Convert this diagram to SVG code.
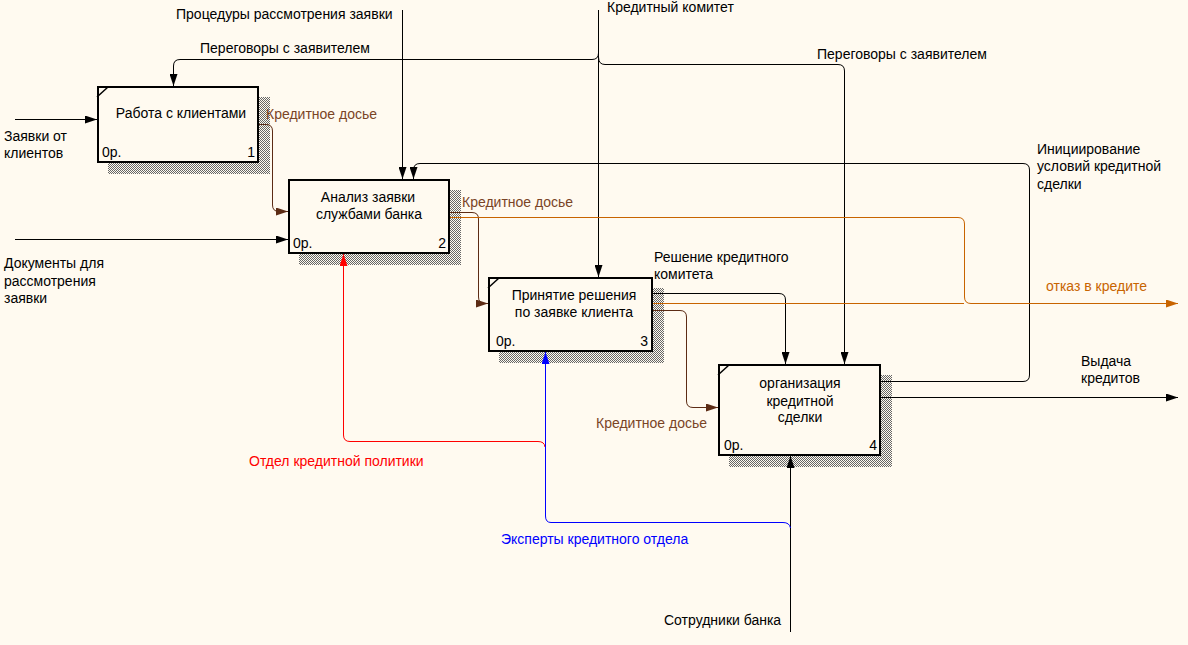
<svg xmlns="http://www.w3.org/2000/svg" width="1188" height="645" viewBox="0 0 1188 645">
<style>
text{font-family:"Liberation Sans",Arial,sans-serif;font-size:14px;fill:#000}
.box{fill:#fffaf0;stroke:#000;stroke-width:2}
.sh{fill:url(#hatch)}
.diag{stroke:#000;stroke-width:1.5}
.c{fill:none;stroke-width:1}
.k{stroke:#000}
.br{stroke:#5c2b14}
.or{stroke:#c86400}
.rd{stroke:#ff0000}
.bl{stroke:#0000ff}
.mid{text-anchor:middle}
.end{text-anchor:end}
.tbr{fill:#7a4426}
.tor{fill:#c86400}
.trd{fill:#ff0000}
.tbl{fill:#0000ff}
</style>
<defs>
<pattern id="hatch" width="2" height="2" patternUnits="userSpaceOnUse"><rect x="0" y="0" width="1" height="1" fill="#666"/><rect x="1" y="1" width="1" height="1" fill="#666"/></pattern>
<marker id="ak" viewBox="0 0 12 8" refX="12" refY="4" markerWidth="12" markerHeight="8" markerUnits="userSpaceOnUse" orient="auto"><path d="M0,0 L12,4 L0,8 z" fill="#000"/></marker>
<marker id="abr" viewBox="0 0 12 8" refX="12" refY="4" markerWidth="12" markerHeight="8" markerUnits="userSpaceOnUse" orient="auto"><path d="M0,0 L12,4 L0,8 z" fill="#5c2b14"/></marker>
<marker id="aor" viewBox="0 0 12 8" refX="12" refY="4" markerWidth="12" markerHeight="8" markerUnits="userSpaceOnUse" orient="auto"><path d="M0,0 L12,4 L0,8 z" fill="#c86400"/></marker>
<marker id="ard" viewBox="0 0 12 8" refX="12" refY="4" markerWidth="12" markerHeight="8" markerUnits="userSpaceOnUse" orient="auto"><path d="M0,0 L12,4 L0,8 z" fill="#ff0000"/></marker>
<marker id="abl" viewBox="0 0 12 8" refX="12" refY="4" markerWidth="12" markerHeight="8" markerUnits="userSpaceOnUse" orient="auto"><path d="M0,0 L12,4 L0,8 z" fill="#0000ff"/></marker>
</defs>
<rect x="0" y="0" width="1188" height="645" fill="#fffaf0"/>

<g id="node1">
<rect class="sh" x="108" y="97" width="162" height="77"/>
<rect class="box" x="98" y="87" width="160" height="75"/>
<line class="diag" x1="97" y1="97" x2="108" y2="87"/>
<text class="mid" x="181" y="118">Работа с клиентами</text>
<text x="102" y="157">0р.</text>
<text class="end" x="255" y="157">1</text>
</g>

<g id="node2">
<rect class="sh" x="299" y="190" width="162" height="75"/>
<rect class="box" x="289" y="180" width="160" height="73"/>
<text class="mid" x="368" y="202">Анализ заявки</text>
<text class="mid" x="369" y="219">службами банка</text>
<text x="293" y="248">0р.</text>
<text class="end" x="446" y="248">2</text>
</g>

<g id="node3">
<rect class="sh" x="499" y="288" width="165" height="75"/>
<rect class="box" x="489" y="278" width="163" height="73"/>
<line class="diag" x1="488" y1="288" x2="499" y2="278"/>
<text class="mid" x="574" y="300">Принятие решения</text>
<text class="mid" x="574" y="317">по заявке клиента</text>
<text x="496" y="346">0р.</text>
<text class="end" x="648" y="346">3</text>
</g>

<g id="node4">
<rect class="sh" x="729" y="375" width="163" height="92"/>
<rect class="box" x="719" y="365" width="161" height="90"/>
<line class="diag" x1="718" y1="375" x2="729" y2="365"/>
<text class="mid" x="800" y="388">организация</text>
<text class="mid" x="800" y="406">кредитной</text>
<text class="mid" x="800" y="422">сделки</text>
<text x="724" y="450">0р.</text>
<text class="end" x="877" y="450">4</text>
</g>

<g id="connectors">
<path class="c k" d="M15,119.5 H97" marker-end="url(#ak)"/>
<path class="c k" d="M15,239.5 H288" marker-end="url(#ak)"/>
<path class="c k" d="M402.5,10 V179" marker-end="url(#ak)"/>
<path class="c k" d="M598.5,10 V277" marker-end="url(#ak)"/>
<path class="c k" d="M598.5,53 Q598.5,59.5 592,59.5 H180 Q173.5,59.5 173.5,66 V86" marker-end="url(#ak)"/>
<path class="c k" d="M598.5,57 Q598.5,64.5 605,64.5 H838 Q844.5,64.5 844.5,71 V364" marker-end="url(#ak)"/>
<path class="c k" d="M881,381.5 H1023 Q1029.5,381.5 1029.5,375 V170 Q1029.5,163.5 1023,163.5 H420 Q413.5,163.5 413.5,170 V179" marker-end="url(#ak)"/>
<path class="c k" d="M653,293.5 H779 Q785.5,293.5 785.5,300 V364" marker-end="url(#ak)"/>
<path class="c k" d="M881,397.5 H1178" marker-end="url(#ak)"/>
<path class="c k" d="M790.5,632 V456" marker-end="url(#ak)"/>
<path class="c br" d="M259,124.5 H266 Q272.5,124.5 272.5,131 V205 Q272.5,211.5 279,211.5 H288" marker-end="url(#abr)"/>
<path class="c br" d="M450,212.5 H472 Q478.5,212.5 478.5,219 V297 Q478.5,303.5 485,303.5 H488" marker-end="url(#abr)"/>
<path class="c br" d="M653,310.5 H680 Q686.5,310.5 686.5,317 V401 Q686.5,407.5 693,407.5 H718" marker-end="url(#abr)"/>
<path class="c or" d="M653,303.5 H964"/>
<path class="c or" d="M450,217.5 H958 Q964.5,217.5 964.5,224 V297 Q964.5,303.5 971,303.5 H1178" marker-end="url(#aor)"/>
<path class="c rd" d="M545,447 Q544.5,441.5 538,441.5 H350 Q343.5,441.5 343.5,435 V254" marker-end="url(#ard)"/>
<path class="c bl" d="M790.5,528 Q789.5,522.5 783,522.5 H551 Q545.5,522.5 545.5,516 V352" marker-end="url(#abl)"/>
</g>

<g id="labels">
<text x="176" y="19">Процедуры рассмотрения заявки</text>
<text x="200" y="53">Переговоры с заявителем</text>
<text x="607" y="12">Кредитный комитет</text>
<text x="817" y="59">Переговоры с заявителем</text>
<text class="tbr" x="266" y="119">Кредитное досье</text>
<text x="4" y="141">Заявки от</text>
<text x="4" y="158">клиентов</text>
<text x="4" y="268">Документы для</text>
<text x="4" y="286">рассмотрения</text>
<text x="4" y="303">заявки</text>
<text class="tbr" x="462" y="207">Кредитное досье</text>
<text x="654" y="262">Решение кредитного</text>
<text x="654" y="279">комитета</text>
<text x="1037" y="154">Инициирование</text>
<text x="1037" y="171">условий кредитной</text>
<text x="1037" y="189">сделки</text>
<text class="tor" x="1046" y="291">отказ в кредите</text>
<text x="1081" y="366">Выдача</text>
<text x="1081" y="383">кредитов</text>
<text class="tbr" x="596" y="428">Кредитное досье</text>
<text class="trd" x="249" y="466">Отдел кредитной политики</text>
<text class="tbl" x="501" y="544">Эксперты кредитного отдела</text>
<text x="664" y="625">Сотрудники банка</text>
</g>
</svg>
